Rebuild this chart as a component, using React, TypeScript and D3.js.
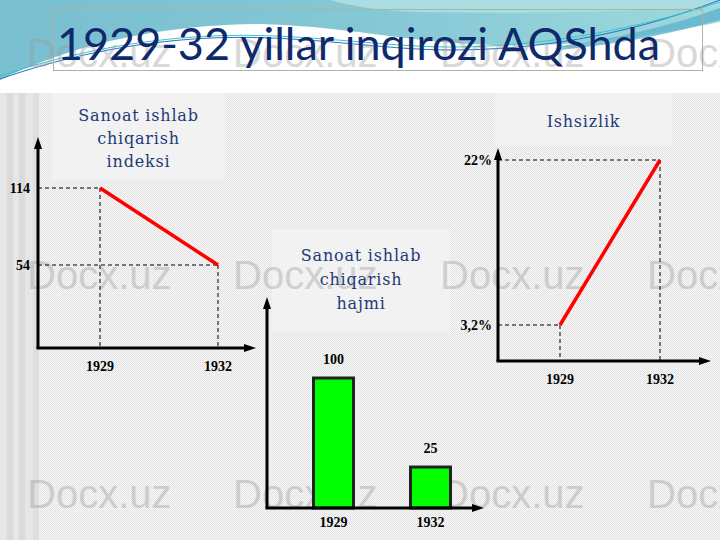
import React from "react";
import * as d3 from "d3";

const years = ["1929", "1932"];
const indexValues = [114, 54];
const volumeValues = [100, 25];
const unemploymentValues = [3.2, 22];
const unemploymentLabels = ["3,2%", "22%"];
const slideTitle = "1929-32 yillar inqirozi AQShda";
const indexTitle = ["Sanoat ishlab", "chiqarish", "indeksi"];
const volumeTitle = ["Sanoat ishlab", "chiqarish", "hajmi"];
const unemploymentTitle = ["Ishsizlik"];
const watermark = "Docx.uz";

const W = 720;
const H = 540;
const navy = "#0f2a6b";
const titleNavy = "#1e3a78";
const tickFont = "'Liberation Serif', 'Times New Roman', serif";
const boxFont = "'DejaVu Serif', serif";

function Axes({ x0, y0, xEnd, yTop }: { x0: number; y0: number; xEnd: number; yTop: number }) {
  const a = 12;
  const h = 4;
  return (
    <g>
      <line x1={x0} y1={y0} x2={x0} y2={yTop + a - 1} stroke="#000" strokeWidth={3} />
      <line x1={x0 - 1.5} y1={y0} x2={xEnd - a + 1} y2={y0} stroke="#000" strokeWidth={3} />
      <path d={`M${x0},${yTop} L${x0 - h},${yTop + a} L${x0 + h},${yTop + a} Z`} fill="#000" />
      <path d={`M${xEnd},${y0} L${xEnd - a},${y0 - h} L${xEnd - a},${y0 + h} Z`} fill="#000" />
    </g>
  );
}

const boxes = [
  { x: 52, y: 93, w: 173, h: 87, lines: indexTitle, baselines: [121, 144, 167] },
  { x: 495, y: 93, w: 177, h: 52, lines: unemploymentTitle, baselines: [127] },
  { x: 272, y: 229, w: 178, h: 103, lines: volumeTitle, baselines: [261, 285, 309] },
];

function BoxText({ x, w, lines, baselines }: any) {
  return (
    <g>
      {lines.map((t: string, i: number) => (
        <text
          key={i}
          x={x + w / 2}
          y={baselines[i]}
          textAnchor="middle"
          fontFamily={boxFont}
          fontSize={16}
          letterSpacing={0.8}
          fill={titleNavy}
        >
          {t}
        </text>
      ))}
    </g>
  );
}

function LineChart({ x0, y0, xEnd, yTop, xs, ys, values, labels, labelX }: any) {
  const pts = years.map((yr, i) => [xs(yr) as number, ys(values[i]) as number]);
  const line = d3.line();
  return (
    <g>
      {pts.map((p, i) => (
        <g key={i}>
          <line x1={x0} y1={p[1]} x2={p[0]} y2={p[1]} stroke="#000" strokeWidth={1} strokeDasharray="4,3" />
          <line x1={p[0]} y1={p[1]} x2={p[0]} y2={y0} stroke="#000" strokeWidth={1} strokeDasharray="4,3" />
          <text
            x={labelX}
            y={p[1] + 5}
            textAnchor="end"
            fontFamily={tickFont}
            fontWeight="bold"
            fontSize={14}
            fill="#000"
          >
            {labels[i]}
          </text>
          <text
            x={p[0]}
            y={y0 + 23}
            textAnchor="middle"
            fontFamily={tickFont}
            fontWeight="bold"
            fontSize={14}
            fill="#000"
          >
            {years[i]}
          </text>
        </g>
      ))}
      <path d={line(pts as any) || ""} stroke="#ff0000" strokeWidth={3.5} fill="none" />
      <Axes x0={x0} y0={y0} xEnd={xEnd} yTop={yTop} />
    </g>
  );
}

export default function App() {
  // left chart
  const lx = d3.scalePoint<string>().domain(years).range([100, 218]);
  const ly = d3.scaleLinear().domain([54, 114]).range([265, 188]);
  // right chart
  const rx = d3.scalePoint<string>().domain(years).range([560, 660]);
  const ry = d3.scaleLinear().domain([3.2, 22]).range([325, 160]);
  // middle chart
  const mx = d3.scalePoint<string>().domain(years).range([333.5, 430.5]);
  const my = d3.scaleLinear().domain([0, 100]).range([496.7, 378]);
  const mBase = 508;
  const barW = 40;

  const wmCols = [27, 233, 440, 647];
  const wmRows = [67, 289, 508];

  const stripes = [
    [0, 7, "#e6e6e6"],
    [7, 13, "#dbdbdb"],
    [13, 19, "#e6e6e6"],
    [19, 25, "#dbdbdb"],
    [25, 33, "#e6e6e6"],
    [33, 39, "#dedede"],
  ];

  return (
    <div style={{ position: "absolute", left: 0, top: 0 }}>
      <svg width={W} height={H} style={{ display: "block" }}>
        <defs>
          <pattern id="chk" width="2" height="2" patternUnits="userSpaceOnUse">
            <rect width="2" height="2" fill="#f6f6f6" />
            <rect width="1" height="1" fill="#e4e4e4" />
            <rect x="1" y="1" width="1" height="1" fill="#e4e4e4" />
          </pattern>
          <linearGradient id="tealG" x1="0" y1="0" x2="1" y2="0">
            <stop offset="0" stopColor="#79bfd0" />
            <stop offset="0.5" stopColor="#84c7d5" />
            <stop offset="1" stopColor="#9fd8de" />
          </linearGradient>
        </defs>
        <rect width={W} height={H} fill="#ffffff" />
        {/* header decoration */}
        <path
          d="M0,0 L720,0 L720,22 C680,30 640,36 610,40 C560,46 500,47 440,42 C380,36 330,26 260,24 C190,24 120,36 70,52 C40,62 15,72 0,80 Z"
          fill="url(#tealG)"
        />
        <path d="M330,0 L720,0 L720,6 C640,12 520,14 420,12 C380,11 350,6 330,0 Z" fill="#a9dde1" />
        <path
          d="M560,46 C620,38 670,26 720,8 L720,20 C670,34 620,44 560,50 Z"
          fill="#5fb3ca"
          opacity={0.8}
        />
        <path
          d="M0,79 C60,58 130,42 210,38 C300,34 380,50 450,50 C530,50 620,38 720,0"
          fill="none"
          stroke="#2f6fc4"
          strokeWidth={1}
        />
        <path
          d="M0,76 C60,56 130,40 210,36 C300,32 380,47 450,47 C530,47 620,34 720,2"
          fill="none"
          stroke="#36c6cf"
          strokeWidth={1}
        />
        <rect x={53.5} y={9.5} width={649} height={61} fill="none" stroke="#aab49f" strokeWidth={1} />

        {/* body background */}
        <rect x={0} y={93} width={W} height={H - 93} fill="url(#chk)" />
        {stripes.map((s, i) => (
          <rect key={i} x={s[0] as number} y={93} width={(s[1] as number) - (s[0] as number)} height={H - 93} fill={s[2] as string} />
        ))}

        {/* title box fills */}
        {boxes.map((b, i) => (
          <rect key={i} x={b.x} y={b.y} width={b.w} height={b.h} fill="#f2f2f2" />
        ))}

        {/* watermark */}
        <g opacity={0.38}>
          {wmRows.map((ry2) =>
            wmCols.map((cx) => (
              <text
                key={`${ry2}-${cx}`}
                x={cx}
                y={ry2}
                fontFamily="'Liberation Sans', Arial, sans-serif"
                fontSize={40}
                fill="#9a9a9a"
              >
                {watermark}
              </text>
            ))
          )}
        </g>

        <text
          x={57}
          y={60}
          fontFamily="Lato, 'Open Sans', sans-serif"
          fontSize={44}
          fill={navy}
          textLength={603}
          lengthAdjust="spacingAndGlyphs"
        >
          {slideTitle}
        </text>

        {boxes.map((b, i) => (
          <BoxText key={i} x={b.x} w={b.w} lines={b.lines} baselines={b.baselines} />
        ))}

        {/* left: index */}
        <LineChart
          x0={38}
          y0={348}
          xEnd={256}
          yTop={137}
          xs={lx}
          ys={ly}
          values={indexValues}
          labels={indexValues.map(String)}
          labelX={30}
        />

        {/* right: unemployment */}
        <LineChart
          x0={498}
          y0={361}
          xEnd={711}
          yTop={148}
          xs={rx}
          ys={ry}
          values={unemploymentValues}
          labels={unemploymentLabels}
          labelX={492}
        />

        {/* middle: volume bars */}
        <g>
          {years.map((yr, i) => {
            const cx = mx(yr) as number;
            const top = my(volumeValues[i]);
            return (
              <g key={yr}>
                <rect
                  x={cx - barW / 2}
                  y={top}
                  width={barW}
                  height={mBase - top}
                  fill="#00ff00"
                  stroke="#222"
                  strokeWidth={3}
                />
                <text
                  x={cx}
                  y={top - 14}
                  textAnchor="middle"
                  fontFamily={tickFont}
                  fontWeight="bold"
                  fontSize={14}
                  fill="#000"
                >
                  {volumeValues[i]}
                </text>
                <text
                  x={cx}
                  y={mBase + 19}
                  textAnchor="middle"
                  fontFamily={tickFont}
                  fontWeight="bold"
                  fontSize={14}
                  fill="#000"
                >
                  {yr}
                </text>
              </g>
            );
          })}
          <Axes x0={267} y0={mBase} xEnd={484} yTop={297} />
        </g>
      </svg>
    </div>
  );
}
